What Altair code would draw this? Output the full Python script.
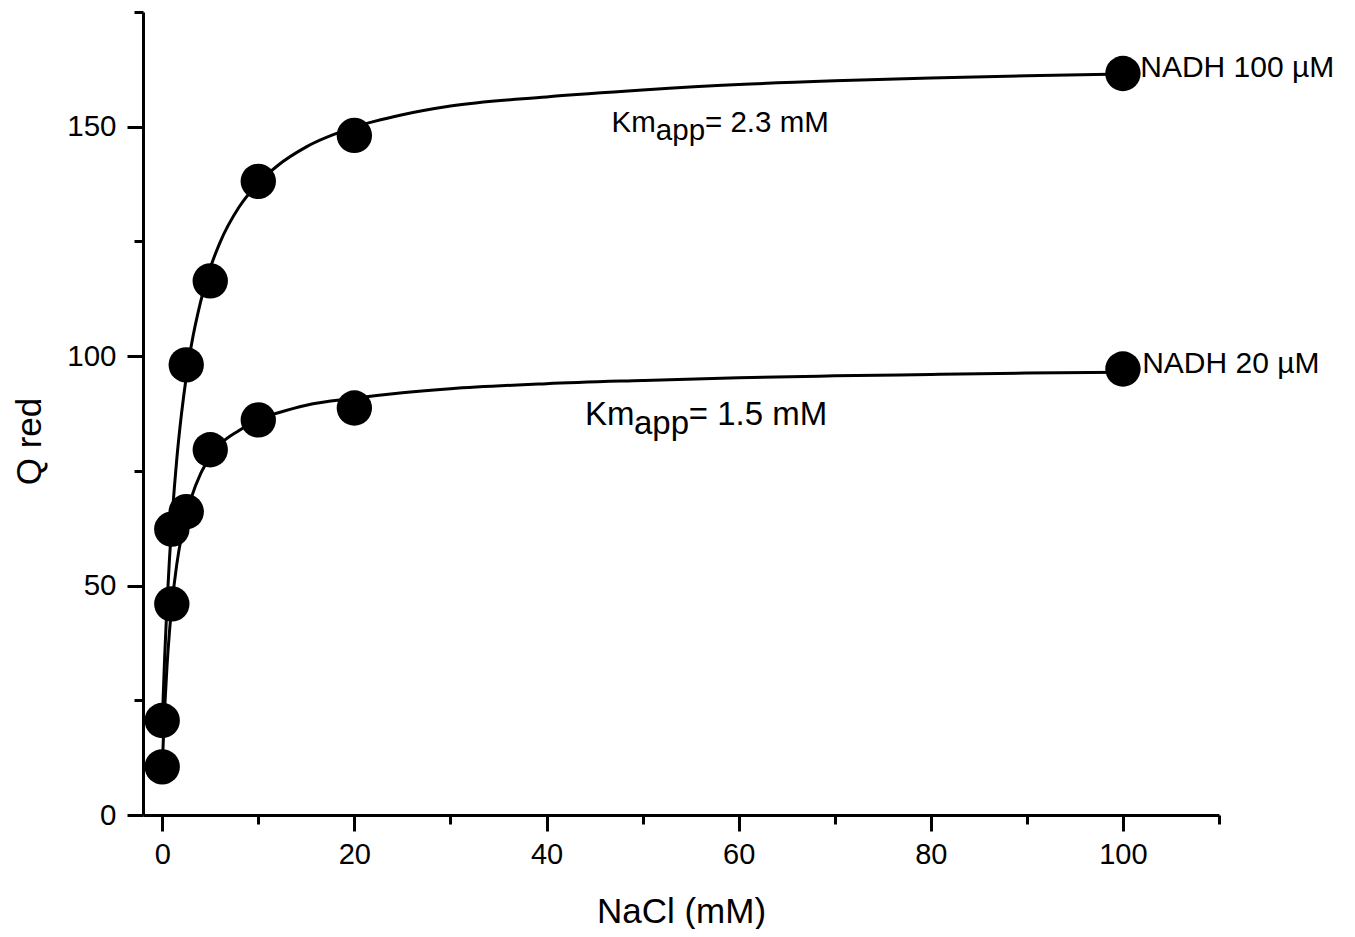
import altair as alt
import pandas as pd

# Measured points (NaCl mM vs Q red)
nacl = [0, 1, 2.5, 5, 10, 20, 100]
q_nadh100 = [20.6, 62.3, 98.1, 116.4, 138.1, 148.1, 161.6]
q_nadh20 = [10.5, 46.0, 66.1, 79.6, 86.1, 88.7, 97.2]

# Fitted curves
fit_x = [0, 0.25, 0.5, 0.75, 1, 1.5, 2, 2.5, 3, 4, 5, 6, 8, 10, 12, 15, 20,
         25, 30, 40, 50, 60, 70, 80, 90, 100]
fit_nadh100 = [20.0, 34.2, 45.9, 55.6, 63.9, 77.2, 87.3, 95.4, 102.0, 111.9,
               119.2, 124.7, 132.5, 137.7, 141.5, 145.6, 149.9, 152.6, 154.5,
               156.5, 158.0, 159.2, 160.0, 160.6, 161.1, 161.5]
fit_nadh20 = [10.5, 23.0, 32.5, 39.8, 45.6, 54.4, 60.7, 65.4, 69.0, 74.4,
              78.0, 80.7, 83.8, 86.2, 87.6, 89.3, 90.8, 92.0, 92.9, 94.0,
              94.7, 95.3, 95.7, 96.0, 96.3, 96.5]

# Annotations (data coordinates)
ann_text = ["NADH 100 \u00b5M", "NADH 20 \u00b5M",
            "Km", "app", "= 2.3 mM",
            "Km", "app", "= 1.5 mM"]
ann_x = [101.8, 102.0, 46.77, 51.38, 56.5, 44.0, 49.1, 54.8]
ann_y = [160.9, 96.4, 148.9, 147.1, 148.9, 85.0, 83.06, 85.0]
ann_size = [30, 30, 29.5, 29.5, 29.5, 33, 33, 33]

x_major = [0, 20, 40, 60, 80, 100]
x_minor = [10, 30, 50, 70, 90, 110]
y_major = [0, 50, 100, 150]
y_minor = [25, 75, 125, 175]

FONT = "Liberation Sans, Arial, Helvetica, sans-serif"

pts = pd.DataFrame({
    "x": nacl + nacl,
    "y": q_nadh100 + q_nadh20,
    "series": ["NADH 100"] * len(nacl) + ["NADH 20"] * len(nacl),
})
fits = pd.DataFrame({
    "x": fit_x + fit_x,
    "y": fit_nadh100 + fit_nadh20,
    "series": ["NADH 100"] * len(fit_x) + ["NADH 20"] * len(fit_x),
})
ann = pd.DataFrame({"text": ann_text, "x": ann_x, "y": ann_y, "size": ann_size})

W, H = 1076, 803

xscale = alt.Scale(domain=[-2, 110], nice=False, zero=False)
yscale = alt.Scale(domain=[0, 175], nice=False)

xaxis = alt.Axis(
    orient="bottom", values=x_major,
    tickSize=16, tickWidth=3, domainWidth=3, domainColor="black", tickColor="black",
    labelFontSize=29, labelFont=FONT, labelColor="black", labelPadding=9,
    labelFlush=False, labelOverlap=False,
    grid=False, title="NaCl (mM)", titleFont=FONT, titleFontSize=35,
    titleFontWeight="normal", titleColor="black",
    titleX=W / 2, titleY=107, titleBaseline="alphabetic", titleAlign="center",
)
yaxis = alt.Axis(
    orient="left", values=y_major,
    tickSize=16, tickWidth=3, domainWidth=3, domainColor="black", tickColor="black",
    labelFontSize=29.5, labelFont=FONT, labelColor="black", labelPadding=11,
    labelFlush=False, labelOverlap=False,
    grid=False, title="Q red", titleFont=FONT, titleFontSize=35,
    titleFontWeight="normal", titleColor="black",
    titleAngle=270, titleX=-103, titleY=429, titleBaseline="alphabetic",
    titleAlign="center",
)
xaxis_minor = alt.Axis(
    orient="bottom", values=x_minor, labels=False, domain=False, grid=False,
    tickSize=9, tickWidth=3, tickColor="black", title="",
)
yaxis_minor = alt.Axis(
    orient="left", values=y_minor, labels=False, domain=False, grid=False,
    tickSize=9, tickWidth=3, tickColor="black", title="",
)

lines = alt.Chart(fits).mark_line(
    color="black", strokeWidth=3, interpolate="monotone"
).encode(
    x=alt.X("x:Q", scale=xscale, axis=xaxis),
    y=alt.Y("y:Q", scale=yscale, axis=yaxis),
    detail="series:N",
)

dots = alt.Chart(pts).mark_circle(
    color="black", opacity=1, size=1250
).encode(
    x=alt.X("x:Q", scale=xscale, axis=xaxis_minor),
    y=alt.Y("y:Q", scale=yscale, axis=yaxis_minor),
)

texts = alt.Chart(ann).mark_text(
    align="left", baseline="alphabetic", font=FONT, color="black"
).encode(
    x=alt.X("x:Q", scale=xscale, axis=None),
    y=alt.Y("y:Q", scale=yscale, axis=None),
    text="text:N",
    size=alt.Size("size:Q", scale=None),
)

chart = alt.layer(lines, dots, texts).resolve_axis(
    x="independent", y="independent"
).properties(
    width=W, height=H,
    autosize=alt.AutoSizeParams(type="none"),
    padding={"left": 135, "top": 4, "right": 128, "bottom": 114},
    view=alt.ViewBackground(stroke="transparent", strokeWidth=0, strokeOpacity=0),
).configure_view(stroke="transparent", strokeOpacity=0).configure(background="white")

chart.save("out.html", embed_options={"renderer": "svg", "actions": False})
